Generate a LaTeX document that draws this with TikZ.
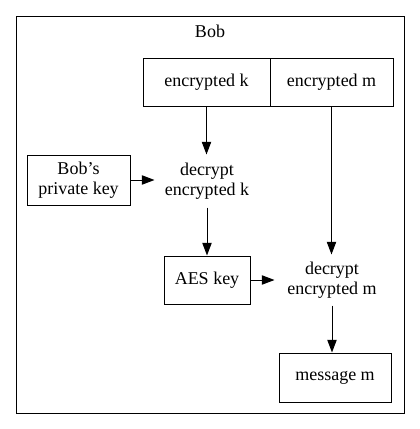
\documentclass[tikz,border=0pt]{standalone}
\usepackage{fontspec}
\setmainfont{Liberation Serif}
\usetikzlibrary{arrows.meta}
\begin{document}
\begin{tikzpicture}[x=0.75pt,y=-0.75pt,line width=0.75pt,
  box/.style={draw,rectangle,inner sep=0pt,align=center,font=\fontsize{13.5pt}{15pt}\selectfont},
  txt/.style={rectangle,inner sep=0pt,align=center,font=\fontsize{13.5pt}{15pt}\selectfont},
  arr/.style={-{Triangle[length=9.5pt,width=7pt]}}]
\useasboundingbox (0,0) rectangle (420,429);
\draw (16,16) rectangle (404,413);
\node[txt] (bob) at (210,31) {Bob};
\node[box,minimum width=95.25pt,minimum height=36pt] (ek) at (206.5,82) {encrypted k};
\node[box,minimum width=92.25pt,minimum height=36pt] (em) at (331.5,82) {encrypted m};
\node[box,minimum width=77.25pt,minimum height=37.5pt] (pk) at (78.5,180) {Bob\char"27 s\\private key};
\node[txt,minimum width=78pt,minimum height=39pt] (dk) at (207,181) {decrypt\\encrypted k};
\node[box,minimum width=64.5pt,minimum height=36pt] (aes) at (207,280) {AES key};
\node[txt,minimum width=85.5pt,minimum height=37.5pt] (dm) at (332,280) {decrypt\\encrypted m};
\node[box,minimum width=84pt,minimum height=36.75pt] (msg) at (335,377.5) {message m};
\draw[arr] (ek.south) -- (ek.south |- dk.north);
\draw[arr] (em.south) -- (em.south |- dm.north);
\draw[arr] (pk.east) -- (pk.east -| dk.west);
\draw[arr] (dk.south) -- (aes.north);
\draw[arr] (aes.east) -- (dm.west);
\draw[arr] (dm.south) -- (dm.south |- msg.north);
\end{tikzpicture}
\end{document}
